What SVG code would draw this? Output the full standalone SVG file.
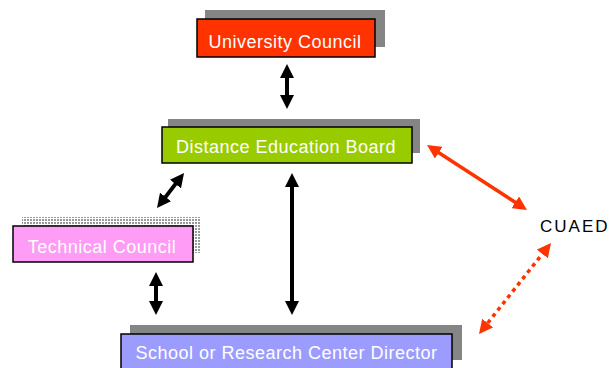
<svg xmlns="http://www.w3.org/2000/svg" width="610" height="368" viewBox="0 0 610 368">
<defs>
  <marker id="ahK" viewBox="0 0 14 14" markerWidth="14" markerHeight="14" refX="4" refY="7" orient="auto-start-reverse" markerUnits="userSpaceOnUse">
    <path d="M0,0 L14,7 L0,14 z" fill="#000"/>
  </marker>
  <marker id="ahR" viewBox="0 0 14 14" markerWidth="14" markerHeight="14" refX="4" refY="7" orient="auto-start-reverse" markerUnits="userSpaceOnUse">
    <path d="M0,0 L14,7 L0,14 z" fill="#ff3300"/>
  </marker>
  <pattern id="dots" width="3" height="3" patternUnits="userSpaceOnUse">
    <rect width="3" height="3" fill="#ffffff"/>
    <rect width="2" height="2" fill="#9a9a9a"/>
  </pattern>
  <style>
    .shadow { fill: #858585; }
    .box { stroke: #000; stroke-width: 1.5; }
    .lbl { font-family: "Liberation Sans", Arial, sans-serif; font-size: 18px; letter-spacing: 0.5px; fill: #ffffff; text-anchor: middle; }
    .blk { stroke: #000; stroke-width: 4; fill: none; }
    .red { stroke: #ff3300; stroke-width: 3.5; fill: none; }
  </style>
</defs>
<rect width="610" height="368" fill="#ffffff"/>

<g id="university-council">
  <rect class="shadow" x="205" y="10" width="180" height="37"/>
  <rect class="box" x="197" y="19" width="178" height="38" fill="#ff3300"/>
  <text class="lbl" x="285" y="48">University Council</text>
</g>

<g id="distance-education-board">
  <rect class="shadow" x="168" y="119" width="252" height="34"/>
  <rect class="box" x="162" y="127" width="250" height="36" fill="#99cc00"/>
  <text class="lbl" x="286" y="153">Distance Education Board</text>
</g>

<g id="technical-council">
  <rect x="22" y="217" width="178" height="36" fill="url(#dots)"/>
  <rect class="box" x="13" y="226" width="180" height="36" fill="#ff9cf5"/>
  <text class="lbl" x="102" y="253">Technical Council</text>
</g>

<g id="school-director">
  <rect class="shadow" x="130" y="325" width="332" height="35"/>
  <rect class="box" x="121" y="334" width="331" height="40" fill="#9c9cff"/>
  <text class="lbl" x="286.5" y="359">School or Research Center Director</text>
</g>

<g id="cuaed">
  <text x="540" y="232" font-family="Liberation Sans, Arial, sans-serif" font-size="17" letter-spacing="2" fill="#000">CUAED</text>
</g>

<g id="connectors">
  <line class="blk" x1="287" y1="74" x2="287" y2="99" marker-start="url(#ahK)" marker-end="url(#ahK)"/>
  <line class="blk" x1="292" y1="183" x2="292" y2="305" marker-start="url(#ahK)" marker-end="url(#ahK)"/>
  <line class="blk" x1="156" y1="282" x2="156" y2="305" marker-start="url(#ahK)" marker-end="url(#ahK)"/>
  <line class="blk" x1="177.9" y1="180.9" x2="163.1" y2="200.1" marker-start="url(#ahK)" marker-end="url(#ahK)"/>
  <line class="red" x1="435.4" y1="150.5" x2="518.6" y2="204.5" marker-start="url(#ahR)" marker-end="url(#ahR)"/>
  <line class="red" x1="544.8" y1="250.8" x2="485.2" y2="326.2" stroke-dasharray="4 4" stroke-width="4" marker-start="url(#ahR)" marker-end="url(#ahR)"/>
</g>
</svg>
